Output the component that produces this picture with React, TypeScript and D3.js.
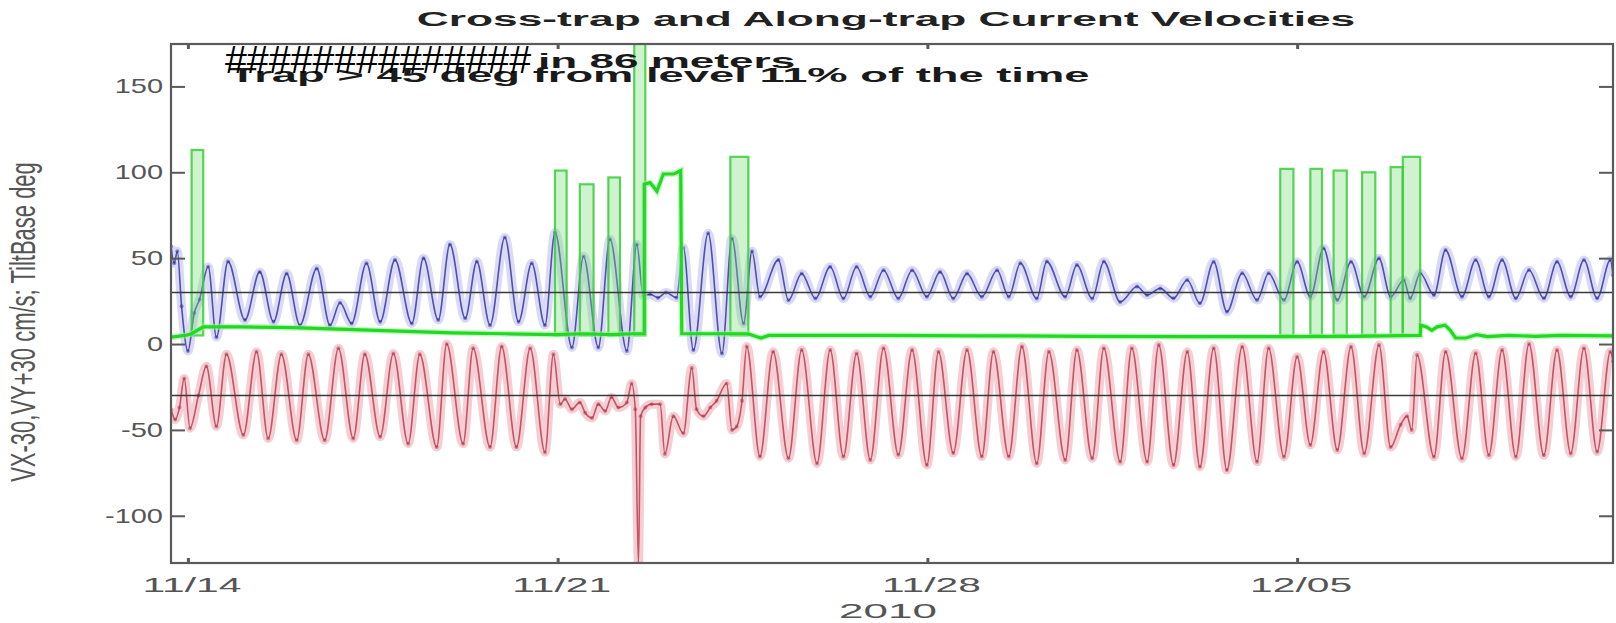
import { useEffect, useRef } from "react";
import * as d3 from "d3";

// x values are days after 2010-11-14 00:00
const xTickDays = [0, 7, 14, 21];
const xTickLabels = ["11/14", "11/21", "11/28", "12/05"];
const yTickValues = [-100, -50, 0, 50, 100, 150];
const refLevels = [30, -30];

// VX-30 (red), turning points
const vxMinus30 = [
  [-0.32, -38], [-0.24, -44], [-0.16, -37], [-0.07, -20], [0.04, -49], [0.2, -30], [0.35, -13],
  [0.54, -48], [0.73, -6], [1.05, -53], [1.3, -4.5], [1.52, -55], [1.77, -6], [2.06, -56],
  [2.28, -6], [2.59, -56], [2.85, -2.5], [3.13, -55], [3.35, -6], [3.64, -54], [3.89, -5.5],
  [4.17, -58], [4.39, -6], [4.71, -60], [4.9, 0], [5.21, -58], [5.4, -2.5], [5.72, -60],
  [5.94, -1.5], [6.22, -60], [6.48, -2.5], [6.76, -63], [6.92, -6], [7.05, -35], [7.14, -32],
  [7.27, -38], [7.42, -34], [7.52, -40], [7.65, -43], [7.77, -35], [7.9, -39], [8.02, -31],
  [8.15, -37], [8.31, -34], [8.4, -23], [8.47, -38], [8.53, -128], [8.57, -42], [8.66, -37],
  [8.78, -35], [8.94, -35], [9.03, -64], [9.19, -42], [9.38, -52], [9.54, -14], [9.63, -38],
  [9.76, -42], [9.89, -37], [10.01, -33], [10.2, -23], [10.3, -50], [10.39, -48], [10.49, -33],
  [10.58, -1.5], [10.83, -65.5], [11.08, -4.5], [11.37, -66.5], [11.62, -3.5], [11.91, -69.5],
  [12.16, -3.5], [12.41, -65.5], [12.66, -5.5], [12.92, -67.5], [13.17, -2.5], [13.45, -64.5],
  [13.71, -3.5], [13.99, -70.5], [14.21, -4.5], [14.49, -63.5], [14.75, -3.5], [15.03, -65.5],
  [15.25, -4.5], [15.54, -65.5], [15.79, -1.5], [16.07, -69.5], [16.3, -4.5], [16.61, -67.5],
  [16.83, -3.5], [17.12, -66.5], [17.34, -2.5], [17.65, -68.5], [17.87, -2.5], [18.16, -68.5],
  [18.38, -0.6], [18.66, -70.5], [18.92, -4.5], [19.16, -71.5], [19.42, -2.5], [19.67, -73.4],
  [19.96, -1.6], [20.24, -68.5], [20.46, -2.5], [20.75, -65.6], [21.0, -7.4], [21.25, -58.8],
  [21.5, -4.5], [21.76, -61.7], [22.02, -1.6], [22.27, -63.7], [22.55, -0.6], [22.77, -60],
  [22.96, -47], [23.08, -42], [23.17, -50], [23.27, -6.4], [23.59, -65.6], [23.81, -4.5],
  [24.12, -66.6], [24.38, -5.4], [24.63, -64.7], [24.88, -3.5], [25.14, -65.6], [25.39, 0],
  [25.67, -64.7], [25.92, -3.5], [26.18, -63.7], [26.43, -2.5], [26.68, -62.7], [26.93, -4.5],
  [26.98, -10],
];

// VY+30 (blue)
const vyPlus30 = [
  [-0.32, 57], [-0.26, 47], [-0.2, 54], [-0.12, 22], [0.0, -4], [0.12, 18], [0.22, 26],
  [0.385, 45], [0.54, 4], [0.76, 48], [1.08, 14], [1.36, 42], [1.62, 13], [1.87, 41],
  [2.12, 11], [2.44, 44], [2.69, 11], [2.88, 24], [3.1, 12], [3.38, 47], [3.64, 13],
  [3.92, 49], [4.24, 12], [4.46, 50], [4.74, 14], [4.96, 58], [5.25, 15], [5.47, 48],
  [5.72, 11], [6.0, 62], [6.26, 13], [6.51, 47], [6.76, 11], [6.95, 65], [7.27, -2],
  [7.49, 51], [7.77, -2], [7.99, 61], [8.31, -4], [8.5, 58], [8.62, 28], [8.75, 29],
  [8.9, 27], [9.05, 30], [9.25, 27], [9.38, 56], [9.57, -3.5], [9.85, 64.5], [10.11, -5.5],
  [10.3, 61.5], [10.52, 12], [10.68, 54], [10.83, 27.5], [11.18, 49], [11.37, 25.5],
  [11.62, 41], [11.88, 26.5], [12.16, 45], [12.41, 26.5], [12.66, 45], [12.92, 27.5],
  [13.17, 43], [13.45, 26.5], [13.71, 43], [13.99, 27.5], [14.24, 42], [14.49, 26.5],
  [14.75, 41], [15.03, 27.5], [15.32, 43], [15.54, 27.5], [15.76, 47], [16.07, 26.5],
  [16.26, 48], [16.61, 27.5], [16.83, 46], [17.12, 26.5], [17.34, 48], [17.65, 24.5],
  [17.97, 33.5], [18.16, 28.5], [18.41, 32.4], [18.66, 26.6], [18.92, 37.3], [19.16, 23.7],
  [19.42, 47.9], [19.67, 18.8], [19.96, 41.2], [20.24, 25.6], [20.46, 41.2], [20.75, 25.6],
  [21.0, 47.9], [21.25, 27.6], [21.5, 55.7], [21.76, 25.6], [22.02, 47.9], [22.27, 27.6],
  [22.55, 49.9], [22.77, 27.6], [23.02, 37.3], [23.14, 26.6], [23.33, 41.2], [23.59, 28.5],
  [23.81, 54.7], [24.12, 27.6], [24.38, 48.9], [24.63, 27.6], [24.88, 48.9], [25.14, 26.6],
  [25.39, 43.1], [25.67, 26.6], [25.92, 47.9], [26.18, 27.6], [26.43, 48.9], [26.68, 26.6],
  [26.93, 48.9], [26.98, 40],
];

// TiltBase deg (green), steady part
const tiltBase = [
  [-0.32, 4], [-0.05, 5], [0.07, 6], [0.29, 10], [1, 10], [2, 9.5], [3, 8.5], [4, 7.5],
  [5, 6.5], [6, 6], [6.95, 5.5], [7.5, 6], [8, 5.5], [8.45, 6], [8.64, 6], [8.64, 93],
  [8.75, 94], [8.88, 89], [9.0, 99], [9.2, 99], [9.33, 101], [9.35, 6], [10, 6], [10.6, 6],
  [10.7, 5], [10.85, 3.5], [11, 5], [13, 5], [15, 4.8], [17, 4.5], [19, 4.3], [20.7, 4.3],
  [22, 4.5], [23.33, 5], [23.34, 11], [23.45, 10], [23.55, 8], [23.65, 10], [23.8, 11],
  [23.9, 8], [24, 3.5], [24.2, 3.5], [24.4, 5.5], [24.6, 4.3], [25, 5], [25.5, 4.5],
  [26, 5], [26.98, 4.7],
];

// TiltBase bursts: [start day, end day, top deg]
const tiltBursts = [
  [0.07, 0.29, 113], [6.95, 7.17, 101], [7.42, 7.68, 93], [7.96, 8.18, 97],
  [8.45, 8.66, 180], [10.27, 10.61, 109], [20.68, 20.93, 102], [21.25, 21.47, 102],
  [21.69, 21.94, 101], [22.23, 22.48, 100], [22.77, 23.0, 103], [23.0, 23.33, 109],
];

const FONT = "'Liberation Sans', Arial, sans-serif";

const App = () => {
  const svgRef = useRef(null);

  useEffect(() => {
    const svg = d3.select(svgRef.current);
    svg.selectAll("*").remove();

    const plot = { left: 171, right: 1613, top: 44, bottom: 563 };
    const x = d3.scaleLinear().domain([-0.32, 26.98]).range([plot.left, plot.right]);
    const y = d3.scaleLinear().domain([-127.5, 174.7]).range([plot.bottom, plot.top]);

    svg.append("rect").attr("width", 1616).attr("height", 623).attr("fill", "#fff");

    svg.append("clipPath").attr("id", "plotClip")
      .append("rect")
      .attr("x", plot.left).attr("y", plot.top)
      .attr("width", plot.right - plot.left).attr("height", plot.bottom - plot.top);

    const g = svg.append("g").attr("clip-path", "url(#plotClip)");

    const smooth = d3.line().x((d) => x(d[0])).y((d) => y(d[1])).curve(d3.curveMonotoneX);
    const straight = d3.line().x((d) => x(d[0])).y((d) => y(d[1]));

    // red and blue: soft halo + darker line
    const series = [
      { data: vxMinus30, halo: "#f4c9ce", line: "#c65466", dot: "#a3283c" },
      { data: vyPlus30, halo: "#d6d6f4", line: "#5050b4", dot: "#22229a" },
    ];
    series.forEach((s) => {
      g.append("path").datum(s.data).attr("d", smooth)
        .attr("fill", "none").attr("stroke", s.halo).attr("stroke-width", 9)
        .attr("stroke-linejoin", "round").attr("opacity", 0.9);
    });
    series.forEach((s) => {
      g.append("path").datum(s.data).attr("d", smooth)
        .attr("fill", "none").attr("stroke", s.line).attr("stroke-width", 1.6);
      g.selectAll(null).data(s.data).join("circle")
        .attr("cx", (d) => x(d[0])).attr("cy", (d) => y(d[1])).attr("r", 2)
        .attr("fill", s.dot).attr("opacity", 0.45);
    });

    // green bursts
    g.selectAll(null).data(tiltBursts).join("rect")
      .attr("x", (d) => x(d[0]))
      .attr("width", (d) => x(d[1]) - x(d[0]))
      .attr("y", (d) => y(d[2]))
      .attr("height", (d) => y(5) - y(d[2]))
      .attr("fill", "#74dc74").attr("fill-opacity", 0.35)
      .attr("stroke", "#3bcc3b").attr("stroke-width", 2.2).attr("stroke-opacity", 0.85);

    g.append("path").datum(tiltBase).attr("d", straight)
      .attr("fill", "none").attr("stroke", "#9af29a").attr("stroke-width", 6).attr("opacity", 0.6);
    g.append("path").datum(tiltBase).attr("d", straight)
      .attr("fill", "none").attr("stroke", "#22d822").attr("stroke-width", 3.2);

    // reference levels
    g.selectAll(null).data(refLevels).join("line")
      .attr("x1", plot.left).attr("x2", plot.right)
      .attr("y1", (d) => y(d)).attr("y2", (d) => y(d))
      .attr("stroke", "#3a3a3a").attr("stroke-width", 1.4);

    // axes, ticks pointing inward on all four sides
    const axisColor = "#5a5a5a";
    const addAxis = (axis, tx, ty) => {
      const a = svg.append("g").attr("transform", `translate(${tx},${ty})`).call(axis);
      a.select(".domain").remove();
      a.selectAll("text").remove();
      a.selectAll("line").attr("stroke", axisColor);
      return a;
    };
    addAxis(d3.axisLeft(y).tickValues(yTickValues).tickSize(-14), plot.left, 0)
      .selectAll("line").attr("stroke-width", 2);
    addAxis(d3.axisRight(y).tickValues(yTickValues).tickSize(-14), plot.right, 0)
      .selectAll("line").attr("stroke-width", 2);
    addAxis(d3.axisBottom(x).tickValues(xTickDays).tickSize(-5), 0, plot.bottom)
      .selectAll("line").attr("stroke-width", 3);
    addAxis(d3.axisTop(x).tickValues(xTickDays).tickSize(-5), 0, plot.top)
      .selectAll("line").attr("stroke-width", 3);

    svg.append("rect")
      .attr("x", plot.left).attr("y", plot.top)
      .attr("width", plot.right - plot.left).attr("height", plot.bottom - plot.top)
      .attr("fill", "none").attr("stroke", axisColor).attr("stroke-width", 2.2);

    // text helper: picture is stretched horizontally
    const label = (str, px, py, opts) => {
      const { sx = 2, sy = 1, rot = 0, anchor = "start", size = 20, weight = "normal", fill = "#555" } = opts || {};
      return svg.append("text")
        .attr("transform", `translate(${px},${py}) rotate(${rot}) scale(${sx},${sy})`)
        .attr("text-anchor", anchor)
        .attr("font-family", FONT)
        .attr("font-size", size)
        .attr("font-weight", weight)
        .attr("fill", fill)
        .text(str);
    };

    yTickValues.forEach((v) => label(String(v), 163, y(v) + 7, { anchor: "end", sx: 1.45 }));
    xTickDays.forEach((d, i) => label(xTickLabels[i], x(d) + 4, 592, { anchor: "middle", sx: 2.04 }));
    label("2010", (plot.left + plot.right) / 2 - 4, 618, { anchor: "middle", sx: 2.2 });

    label("VX-30,VY+30 cm/s; TiltBase deg", 35, 322, {
      anchor: "middle", rot: -90, sx: 1, sy: 1.6, size: 22,
    });

    label("Cross-trap and Along-trap Current Velocities", 886, 25.5, {
      anchor: "middle", sx: 2.11, size: 21, weight: "bold", fill: "#222",
    });

    label("in 86 meters", 538, 68, { sx: 2.1, size: 21, weight: "bold", fill: "#1a1a1a" });
    label("Trap > 45 deg from level 11% of the time", 229, 82, {
      sx: 2.16, size: 21, weight: "bold", fill: "#1a1a1a",
    });
    label("##############", 225, 73, { sx: 1.0, size: 39, fill: "#000" })
      .attr("textLength", 306).attr("lengthAdjust", "spacingAndGlyphs");
  }, []);

  return (
    <svg
      ref={svgRef}
      width={1616}
      height={623}
      style={{ position: "absolute", left: 0, top: 0, display: "block" }}
    ></svg>
  );
};

export default App;
